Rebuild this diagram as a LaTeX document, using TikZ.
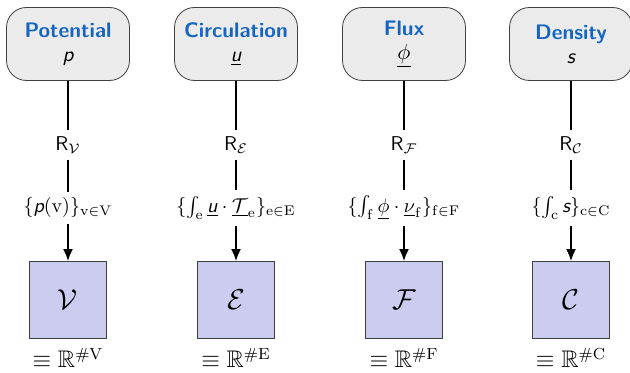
\documentclass[tikz,border=0pt]{standalone}
\usepackage{amsmath}
\usepackage{amssymb}
\usepackage{xcolor}
\usepackage{tikz}
\usetikzlibrary{arrows.meta}

\definecolor{titleblue}{RGB}{22,101,192}
\definecolor{cellblue}{RGB}{204,204,240}
\definecolor{boxgray}{RGB}{235,235,235}
\newcommand{\sfi}[1]{\text{\sffamily\itshape #1}}

\begin{document}
\begin{tikzpicture}[x=0.5pt,y=0.5pt,
  fieldbox/.style={draw=black!75, fill=boxgray, rounded corners=10pt,
    minimum width=61.5pt, minimum height=36.5pt, align=center,
    font=\sffamily\fontsize{10.5}{12}\selectfont},
  maplabel/.style={font=\sffamily, inner sep=3pt},
  dofbox/.style={draw=black!75, fill=cellblue, minimum size=38.5pt, font=\Large},
  link/.style={line width=0.9pt}]
  \useasboundingbox (0,0) rectangle (630,373);
  % ---- Vertices: potential p ----
  \begin{scope}[xshift=34pt]
    \node[fieldbox] (potbox) at (0,329) {\textcolor{titleblue}{\bfseries Potential}\\ $\sfi{p}$};
    \node[maplabel] (potR) at (0,228) {R$_{\mathcal{V}}$};
    \node[maplabel] (potset) at (0,165) {$\{\sfi{p}(\mathrm{v})\}_{\mathrm{v}\in\mathrm{V}}$};
    \node[dofbox] (potdof) at (0,73) {$\mathcal{V}$};
    \node[font=\large] (potdim) at (0,15) {$\equiv\mathbb{R}^{\#\mathrm{V}}$};
    \draw[link] (potbox) -- (potR);
    \draw[link] (potR) -- (potset);
    \draw[link,-{Latex[length=6pt,width=5pt]}] (potset) -- (potdof);
  \end{scope}
  % ---- Edges: circulation u ----
  \begin{scope}[xshift=118pt]
    \node[fieldbox] (circbox) at (0,329) {\textcolor{titleblue}{\bfseries Circulation}\\ $\underline{\sfi{u}}$};
    \node[maplabel] (circR) at (0,228) {R$_{\mathcal{E}}$};
    \node[maplabel] (circset) at (0,165) {$\{\textstyle\int_{\mathrm{e}}\underline{\sfi{u}}\cdot\underline{\mathcal{T}}_{\mathrm{e}}\}_{\mathrm{e}\in\mathrm{E}}$};
    \node[dofbox] (circdof) at (0,73) {$\mathcal{E}$};
    \node[font=\large] (circdim) at (0,15) {$\equiv\mathbb{R}^{\#\mathrm{E}}$};
    \draw[link] (circbox) -- (circR);
    \draw[link] (circR) -- (circset);
    \draw[link,-{Latex[length=6pt,width=5pt]}] (circset) -- (circdof);
  \end{scope}
  % ---- Faces: flux phi ----
  \begin{scope}[xshift=202pt]
    \node[fieldbox] (fluxbox) at (0,329) {\textcolor{titleblue}{\bfseries Flux}\\ $\underline{\phi}$};
    \node[maplabel] (fluxR) at (0,228) {R$_{\mathcal{F}}$};
    \node[maplabel] (fluxset) at (0,165) {$\{\textstyle\int_{\mathrm{f}}\underline{\phi}\cdot\underline{\nu}_{\mathrm{f}}\}_{\mathrm{f}\in\mathrm{F}}$};
    \node[dofbox] (fluxdof) at (0,73) {$\mathcal{F}$};
    \node[font=\large] (fluxdim) at (0,15) {$\equiv\mathbb{R}^{\#\mathrm{F}}$};
    \draw[link] (fluxbox) -- (fluxR);
    \draw[link] (fluxR) -- (fluxset);
    \draw[link,-{Latex[length=6pt,width=5pt]}] (fluxset) -- (fluxdof);
  \end{scope}
  % ---- Cells: density s ----
  \begin{scope}[xshift=285.5pt]
    \node[fieldbox] (densbox) at (0,329) {\textcolor{titleblue}{\bfseries Density}\\ $\sfi{s}$};
    \node[maplabel] (densR) at (0,228) {R$_{\mathcal{C}}$};
    \node[maplabel] (densset) at (0,165) {$\{\textstyle\int_{\mathrm{c}}\sfi{s}\}_{\mathrm{c}\in\mathrm{C}}$};
    \node[dofbox] (densdof) at (0,73) {$\mathcal{C}$};
    \node[font=\large] (densdim) at (0,15) {$\equiv\mathbb{R}^{\#\mathrm{C}}$};
    \draw[link] (densbox) -- (densR);
    \draw[link] (densR) -- (densset);
    \draw[link,-{Latex[length=6pt,width=5pt]}] (densset) -- (densdof);
  \end{scope}
\end{tikzpicture}
\end{document}
